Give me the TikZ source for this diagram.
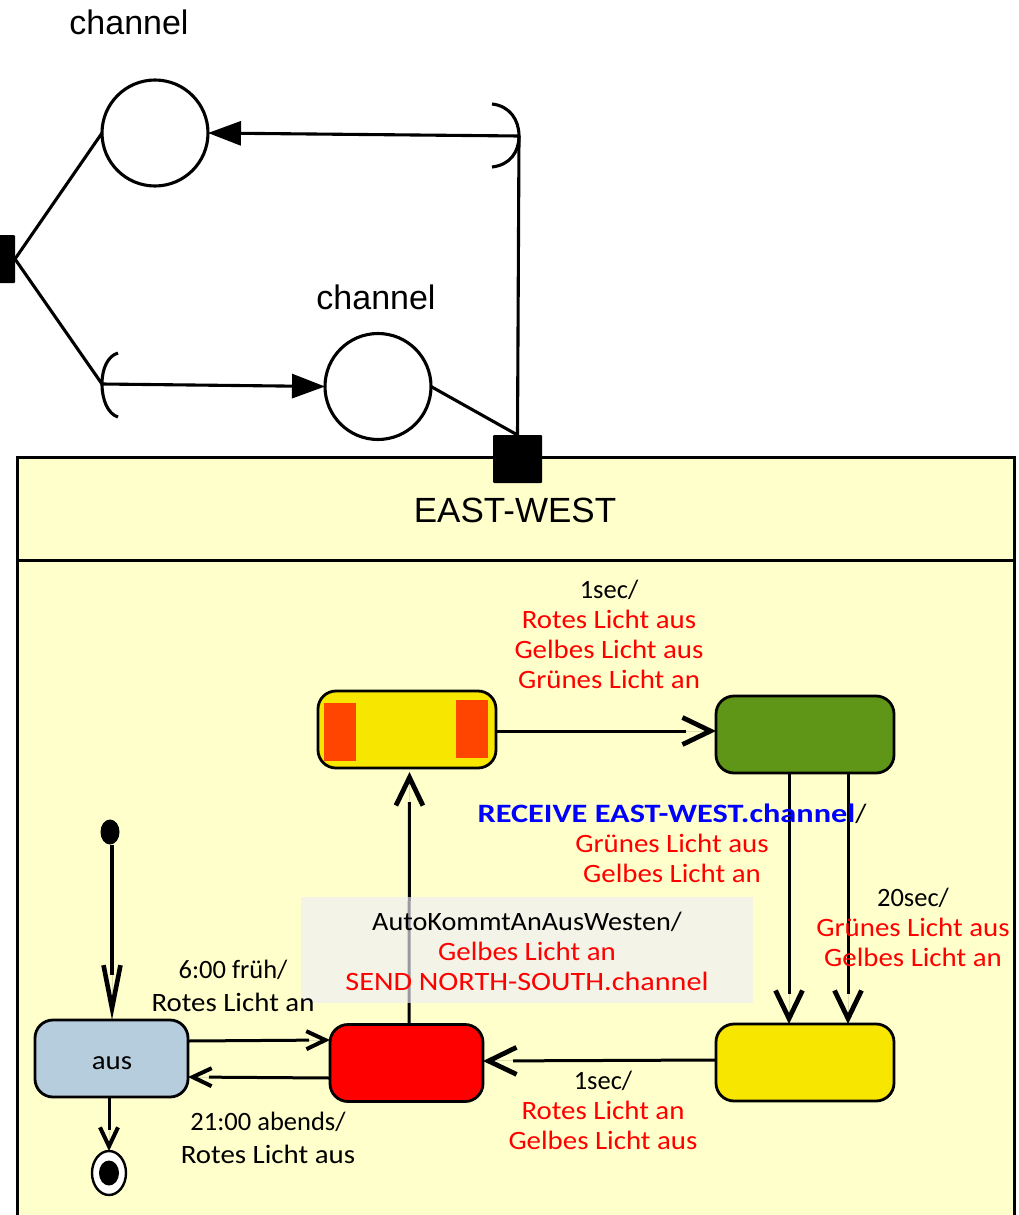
\documentclass[tikz,border=0pt]{standalone}
\usepackage{fontspec}
\setmainfont{Liberation Sans}
\newfontfamily\statefont[FakeStretch=1.09]{Carlito}
\newfontfamily\plainfont{Carlito}
\newfontfamily\autofont[FakeStretch=1.065]{Carlito}
\newfontfamily\recvfont[FakeStretch=1.22]{Carlito}
\newfontfamily\sendfont[FakeStretch=1.14]{Carlito}
\usetikzlibrary{arrows.meta,shapes.geometric}
\definecolor{bgyellow}{HTML}{FFFFCC}
\definecolor{stateyellow}{HTML}{F7E600}
\definecolor{stategreen}{HTML}{5F9618}
\definecolor{stateblue}{HTML}{B5CDDD}
\definecolor{lamp}{HTML}{FF4500}
\definecolor{veil}{rgb}{0.934,0.934,0.969}
\tikzset{
  every node/.style={outer sep=0pt},
  ln/.style={line width=3.1pt,draw=black},
  statebox/.style={draw=black,line width=2.8pt,rounded corners=18pt,inner sep=0pt,minimum width=#1,minimum height=77pt},
  statebox/.default=178pt,
  place/.style={circle,draw=black,line width=3.1pt,fill=white,minimum size=106pt,inner sep=0pt},
  port/.style={fill=black,rounded corners=1pt,inner sep=0pt},
  solidtip/.style={-{Triangle[length=33pt,width=24pt]},line width=3.1pt},
  vhead/.style n args={4}{line width=#3,shorten >=#1,
     postaction={draw,shorten >=0pt,line width=0.01pt,-{Straight Barb[length=#1-2pt,width=#2-4pt,line width=#4]}}},
  vbig/.style={vhead={30pt}{31pt}{3pt}{4.8pt}},
  vsmall/.style={vhead={21pt}{22pt}{3pt}{4pt}},
  vlong/.style={vhead={45pt}{21pt}{3.3pt}{4.6pt}},
  lbl/.style={font=\statefont\fontsize{26.5}{30}\selectfont,align=center,inner sep=0pt},
  lblwide/.style={font=\statefont\fontsize{26.5}{33}\selectfont,align=center,inner sep=0pt},
  title/.style={font=\fontsize{35}{40}\selectfont,inner sep=0pt},
  placename/.style={font=\fontsize{34}{40}\selectfont,inner sep=0pt}
}
\begin{document}
\begin{tikzpicture}[x=1pt,y=-1pt]
\useasboundingbox (0,0) rectangle (1019,1215);
\clip (0,0) rectangle (1019,1215);
% container
\node[draw=black,line width=3pt,fill=bgyellow,minimum width=997pt,minimum height=800pt,inner sep=0pt,anchor=north west] (ew) at (17,457) {};
\node[draw=black,line width=3pt,minimum width=997pt,minimum height=103pt,inner sep=0pt,anchor=north west] (ewhead) at (17,457) {};
\node[title] (ewtitle) at (515,510) {EAST-WEST};
% communication part
\node[place] (c1) at (155,133) {};
\node[place] (c2) at (378,386.5) {};
\node[placename] (c1l) at (129,22) {channel};
\node[placename] (c2l) at (376,297) {channel};
\node[port,minimum width=34pt,minimum height=48pt] (pw) at (-2,259) {};
\node[port,minimum width=49pt,minimum height=48pt] (pe) at (517.5,459) {};
\coordinate (rcv) at (519,136);
\coordinate (snd) at (102,384);
\draw[ln] (492,104) .. controls (510,106) and (519,120) .. (rcv) .. controls (519,152) and (510,165) .. (492,167);
\draw[ln] (118,353) .. controls (108,356) and (102,368) .. (snd) .. controls (102,400) and (108,414) .. (118,417);
\draw[ln] (pw.east) -- (c1.west);
\draw[ln] (pw.east) -- (snd);
\draw[ln] (c2.east) -- (pe.north);
\draw[ln] (pe.north) -- (rcv);
\draw[solidtip] (rcv) -- (c1.east);
\draw[solidtip] (snd) -- (c2.west);
% states
\node[statebox,fill=stateyellow] (sy1) at (407,729.5) {};
\fill[lamp] (324,703) rectangle (356,761);
\fill[lamp] (456,700) rectangle (488,758);
\node[statebox,fill=stategreen] (sg) at (805,734.5) {};
\node[statebox=153pt,fill=red] (sr) at (406.5,1063) {};
\node[statebox=153pt,fill=stateblue] (sa) at (111.5,1058.5) {};
\node[statebox,fill=stateyellow] (sy2) at (805,1062.5) {};
\node[ellipse,fill=black,minimum width=19pt,minimum height=25pt,inner sep=0pt] (init) at (110,832) {};
\node[ellipse,draw=black,line width=2.4pt,fill=white,minimum width=34pt,minimum height=44pt,inner sep=0pt] (fin) at (109,1173) {};
\node[ellipse,fill=black,minimum width=20pt,minimum height=25pt,inner sep=0pt] (fini) at (109,1173) {};
% transitions
\draw[vlong] ([xshift=2pt]init.south) -- ([xshift=0.5pt]sa.north);
\draw[vsmall] ([yshift=17.5pt]sa.east) -- ([yshift=23pt]sr.west);
\draw[vsmall] ([yshift=-15pt]sr.west) -- ([yshift=-18.5pt]sa.east);
\draw[vsmall] ([xshift=-2.5pt]sa.south) -- (fin.north);
\draw[vbig] ([xshift=2.5pt]sr.north) -- ([xshift=2.5pt,yshift=-4pt]sy1.south);
\draw[vbig] ([yshift=-1.5pt]sy1.east) -- ([yshift=3.5pt]sg.west);
\draw[vbig] ([xshift=-16pt]sg.south) -- ([xshift=-16pt]sy2.north);
\draw[vbig] ([xshift=43pt]sg.south) -- ([xshift=43pt]sy2.north);
\draw[vbig] ([yshift=2.5pt]sy2.west) -- ([yshift=2pt]sr.east);
% veil and labels
\fill[veil,opacity=0.65] (301,897) rectangle (753,1003);
\node[lbl] (t1) at (609,634) {{\plainfont 1sec/}\\\textcolor{red}{Rotes Licht aus}\\\textcolor{red}{Gelbes Licht aus}\\\textcolor{red}{Grünes Licht an}};
\node[lbl] (t2) at (672,843) {{\recvfont\textcolor{blue}{\textbf{RECEIVE EAST-WEST.channel}}}/\\\textcolor{red}{Grünes Licht aus}\\\textcolor{red}{Gelbes Licht an}};
\node[lbl] (t3) at (913,927) {{\plainfont 20sec/}\\\textcolor{red}{Grünes Licht aus}\\\textcolor{red}{Gelbes Licht an}};
\node[lbl] (t4) at (527,951) {{\autofont AutoKommtAnAusWesten/}\\\textcolor{red}{Gelbes Licht an}\\{\sendfont\textcolor{red}{SEND NORTH-SOUTH.channel}}};
\node[lblwide] (t5) at (233,985.5) {{\plainfont 6:00 früh/}\\Rotes Licht an};
\node[lblwide] (t6) at (268,1138) {{\plainfont 21:00 abends/}\\Rotes Licht aus};
\node[lbl] (t7) at (603,1110) {{\plainfont 1sec/}\\\textcolor{red}{Rotes Licht an}\\\textcolor{red}{Gelbes Licht aus}};
\node[lbl] (taus) at (112,1063) {aus};
\end{tikzpicture}
\end{document}
